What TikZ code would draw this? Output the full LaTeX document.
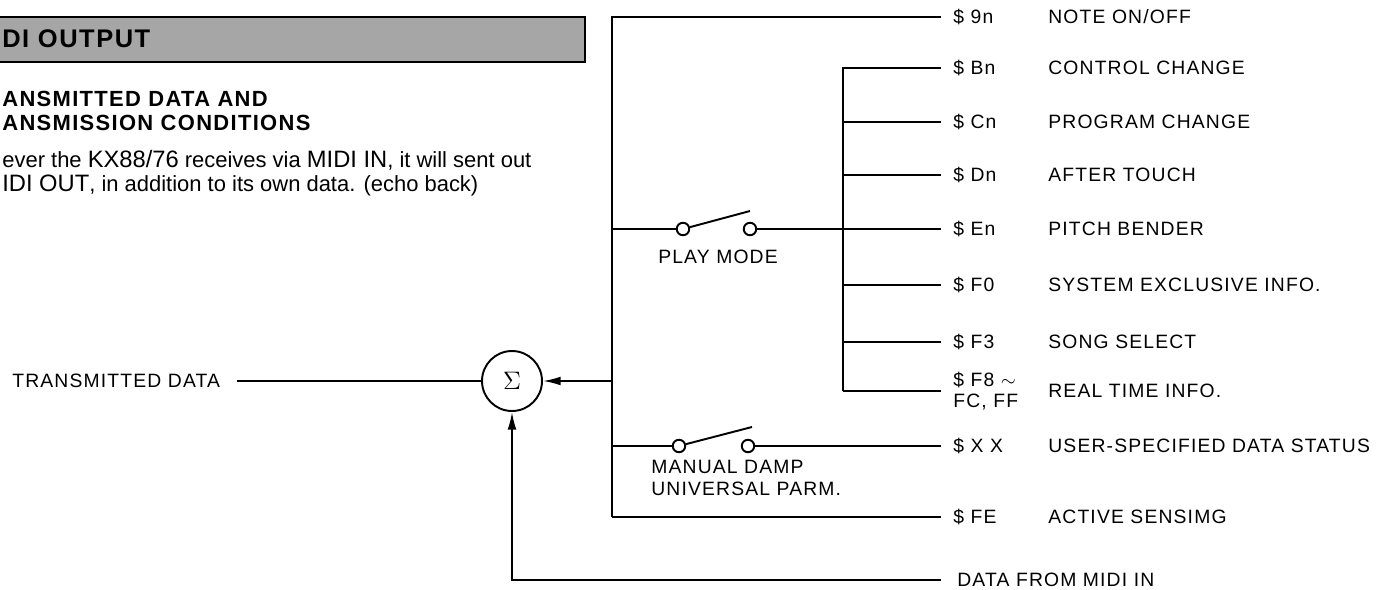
\documentclass[tikz,border=0pt]{standalone}
\usepackage{fontspec}
\setmainfont{Liberation Sans}
\newfontfamily\lblfont[LetterSpace=6]{Liberation Sans}
\newfontfamily\headfont[LetterSpace=6]{Liberation Sans}
\usetikzlibrary{arrows.meta, positioning}

\begin{document}
\begin{tikzpicture}[
    x=0.02cm, y=-0.02cm,
    wire/.style={line width=1.1pt},
    flow/.style={-{Latex[length=10pt,width=5pt]}, line width=1.1pt},
    sumnode/.style={circle, draw, line width=1.1pt, minimum size=1.2cm,
                    inner sep=0pt, font=\Large},
    contact/.style={circle, draw, fill=white, line width=1.1pt,
                    minimum size=0.25cm, inner sep=0pt},
    code/.style={anchor=west, inner sep=0pt, align=left,
                 font=\lblfont\fontsize{11}{12}\selectfont},
    desc/.style={anchor=west, inner sep=0pt,
                 font=\lblfont\fontsize{11}{12}\selectfont},
    lbl/.style={inner sep=0pt, align=left,
                font=\lblfont\fontsize{11}{13}\selectfont},
]
\useasboundingbox (0,0) rectangle (1394,589);

% title strip and text column
\fill[black!35] (0,17) rectangle (585,62);
\draw[line width=1.3pt] (0,17) -- (585,17) -- (585,62) -- (0,62);
\node[anchor=west, inner sep=0pt,
      font=\headfont\bfseries\fontsize{14.5}{16}\selectfont] (title) at (2,39) {DI OUTPUT};
\node[anchor=west, inner sep=0pt, align=left,
      font=\headfont\bfseries\fontsize{12.5}{13.7}\selectfont] (subhead) at (2,111)
     {ANSMITTED DATA AND\\ANSMISSION CONDITIONS};
\node[anchor=west, inner sep=0pt, align=left,
      font=\fontsize{12.5}{14}\selectfont] (intro) at (2,173)
     {ever the {\fontsize{13.5}{14}\selectfont KX88/76} receives via
      {\fontsize{13.5}{14}\selectfont MIDI IN}, it will sent out\\
      {\fontsize{13.5}{14}\selectfont IDI OUT}, in addition to its own data. (echo back)};

% summing point
\node[sumnode] (sum) at (512,381) {$\Sigma$};
\node[lbl, anchor=west] (txd) at (12,381) {TRANSMITTED DATA};

% bus junctions
\coordinate (busTop) at (612,17);
\coordinate (busPlay) at (612,229);
\coordinate (busSum) at (612,381);
\coordinate (busMan) at (612,446);
\coordinate (busBot) at (612,517);
\coordinate (subTop) at (843,68);
\coordinate (subBot) at (843,391);

% status bytes
\node[code] (c9n) at (953,17) {\$ 9n};
\node[code] (cBn) at (953,68) {\$ Bn};
\node[code] (cCn) at (953,122) {\$ Cn};
\node[code] (cDn) at (953,175) {\$ Dn};
\node[code] (cEn) at (953,229) {\$ En};
\node[code] (cF0) at (953,285) {\$ F0};
\node[code] (cF3) at (953,342) {\$ F3};
\node[code] (cF8) at (953,391) {\$ F8 $\sim$\\FC, FF};
\node[code] (cXX) at (953,446) {\$ X X};
\node[code] (cFE) at (953,517) {\$ FE};

\node[desc] (dNote) at (1048,17) {NOTE ON/OFF};
\node[desc] (dCtrl) at (1048,68) {CONTROL CHANGE};
\node[desc] (dProg) at (1048,122) {PROGRAM CHANGE};
\node[desc] (dTouch) at (1048,175) {AFTER TOUCH};
\node[desc] (dBend) at (1048,229) {PITCH BENDER};
\node[desc] (dSysex) at (1048,285) {SYSTEM EXCLUSIVE INFO.};
\node[desc] (dSong) at (1048,342) {SONG SELECT};
\node[desc] (dClock) at (1048,391) {REAL TIME INFO.};
\node[desc] (dUser) at (1048,446) {USER-SPECIFIED DATA STATUS};
\node[desc] (dSense) at (1048,517) {ACTIVE SENSIMG};
\node[desc] (midiin) at (957,580) {DATA FROM MIDI IN};

% switches
\node[contact] (play1) at (683,229) {};
\node[contact] (play2) at (750,229) {};
\coordinate (playArm) at (750,211);
\node[lbl] (playlbl) at (718,257) {PLAY MODE};

\node[contact] (man1) at (679,446) {};
\node[contact] (man2) at (748,446) {};
\coordinate (manArm) at (752,427);
\node[lbl, anchor=west] (manlbl) at (651,478) {MANUAL DAMP\\UNIVERSAL PARM.};

% wiring
\draw[wire] ([xshift=0.34cm]txd.east) -- (sum.west);
\draw[wire] (busBot) -- (busTop) -- ([xshift=-0.24cm]c9n.west);
\draw[wire] (subBot) -- (subTop) -- ([xshift=-0.24cm]cBn.west);
\draw[wire] (subTop |- cCn.west) -- ([xshift=-0.24cm]cCn.west);
\draw[wire] (subTop |- cDn.west) -- ([xshift=-0.24cm]cDn.west);
\draw[wire] (subTop |- cF0.west) -- ([xshift=-0.24cm]cF0.west);
\draw[wire] (subTop |- cF3.west) -- ([xshift=-0.24cm]cF3.west);
\draw[wire] (subBot) -- ([xshift=-0.24cm]cF8.west);
\draw[wire] (busPlay) -- (play1.west);
\draw[wire] (play1.15) -- (playArm);
\draw[wire] (play2.east) -- ([xshift=-0.24cm]cEn.west);
\draw[wire] (busMan) -- (man1.west);
\draw[wire] (man1.15) -- (manArm);
\draw[wire] (man2.east) -- ([xshift=-0.24cm]cXX.west);
\draw[wire] (busBot) -- ([xshift=-0.24cm]cFE.west);
\draw[flow] (busSum) -- (sum.east);
\draw[flow] ([xshift=-0.32cm]midiin.west) -| (sum.south);

\end{tikzpicture}
\end{document}
